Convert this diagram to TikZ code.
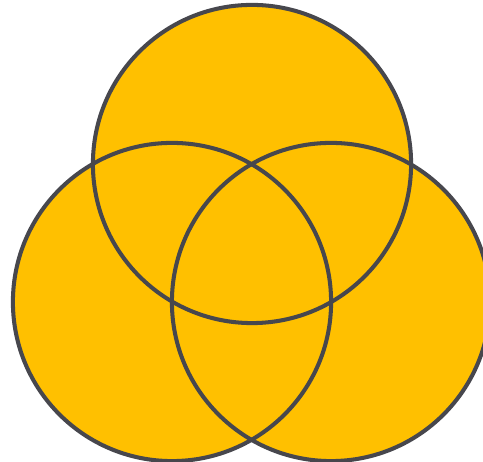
\documentclass[tikz,border=0pt]{standalone}
\definecolor{venngold}{HTML}{FFC000}
\definecolor{ringgray}{HTML}{47474D}
\begin{document}
\begin{tikzpicture}[x=0.01cm,y=-0.01cm,
  disc/.style={fill=venngold},
  ring/.style={draw=ringgray,line width=1.15pt}]
  \useasboundingbox (0,0) rectangle (483,462);
  \clip (0,0) rectangle (483,462);
  % sets: top, left, right
  \foreach \cx/\cy in {252/164,172/302,331/302}
    \fill[disc] (\cx,\cy) circle[radius=1.59cm];
  \foreach \cx/\cy in {252/164,172/302,331/302}
    \draw[ring] (\cx,\cy) circle[radius=1.59cm];
\end{tikzpicture}
\end{document}
